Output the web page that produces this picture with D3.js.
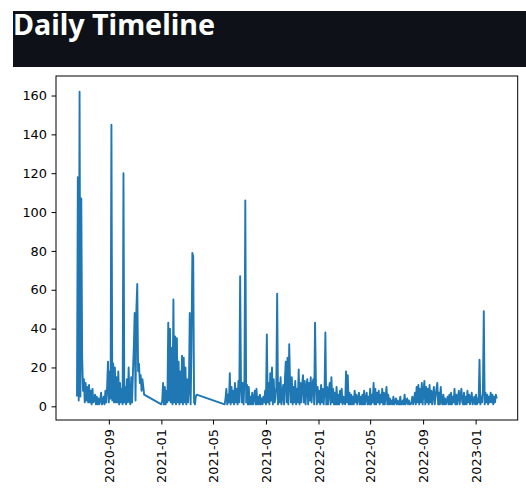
<!DOCTYPE html>
<html>
<head>
<meta charset="utf-8">
<script src="https://cdn.jsdelivr.net/npm/d3@7"></script>
<style>
  body { margin: 0; background: #fff; }
</style>
</head>
<body>
<div class="canvas"></div>
<script>
// daily message counts, every 2 days, in three runs
const segStarts = ['2020-06-19', '2021-01-01', '2021-05-28'];
const stepDays = 2;

const segA = [
    5, 118, 3, 162, 5, 107, 26,
    8, 14, 2, 12, 3, 10, 2, 11, 2, 8, 1, 9, 2,
    3, 6, 1, 5, 1, 4, 1, 3, 7, 1,
    2, 5, 1, 8, 2, 10, 23, 2, 18, 4,
    145,
    3, 22, 2, 20, 2, 15, 2, 18, 1, 12, 2, 9, 1,
    120,
    2, 10, 1, 14, 2, 20, 3, 1, 15, 2, 18,
    30, 48, 3, 50, 63, 18, 22, 12, 16, 8, 14, 10, 6
];

const segB = [
    1, 3, 12, 1, 10, 1, 8, 2, 43, 3,
    40, 2, 30, 1, 55, 2, 36, 1, 35, 2,
    23, 1, 18, 2, 26, 1, 25, 2, 20, 1,
    14, 2, 9, 48, 1, 30, 79, 77, 2, 1,
    5, 6
];

const segC = [
    1, 4, 9, 1, 6, 2, 17, 1, 10, 2,
    8, 1, 12, 2, 9, 1, 13, 2, 67, 10,
    2, 12, 1, 14, 106, 2, 11, 1, 10, 1,
    5, 1, 7, 1, 4, 8, 1, 9, 1, 5,
    1, 6, 1, 4, 1, 5, 2, 8, 1, 37,
    2, 12, 1, 17, 3, 20, 1, 14, 2, 4,
    10, 58, 1, 12, 2, 15, 1, 5, 11, 1,
    14, 23, 2, 25, 1, 32, 12, 2, 15, 1,
    10, 2, 13, 1, 9, 2, 19, 1, 12, 2,
    11, 16, 2, 13, 1, 10, 14, 1, 12, 3,
    15, 2, 11, 14, 1, 43, 12, 1, 10, 2,
    8, 1, 11, 2, 9, 1, 7, 38, 1, 10,
    1, 8, 12, 1, 15, 2, 9, 1, 7, 1,
    10, 1, 6, 1, 8, 2, 9, 1, 5, 2,
    1, 18, 2, 16, 1, 7, 1, 6, 1, 5,
    1, 8, 2, 6, 1, 4, 7, 1, 5, 1,
    6, 1, 8, 1, 4, 7, 1, 5, 1, 9,
    1, 6, 2, 12, 1, 9, 1, 7, 2, 8,
    1, 6, 2, 9, 1, 7, 1, 5, 10, 1,
    6, 1, 4, 1, 3, 1, 5, 1, 2, 4,
    1, 3, 1, 1, 5, 1, 1, 3, 1, 6,
    1, 2, 4, 1, 3, 1, 1, 2, 5, 1,
    3, 7, 1, 10, 2, 11, 1, 9, 2, 12,
    1, 8, 13, 1, 10, 2, 9, 1, 11, 2,
    8, 1, 6, 10, 1, 5, 9, 12, 1, 7,
    1, 10, 2, 1, 6, 1, 4, 1, 3, 5,
    1, 6, 1, 7, 1, 5, 2, 9, 1, 6,
    1, 5, 8, 1, 6, 9, 2, 1, 7, 1,
    5, 1, 8, 2, 6, 1, 4, 7, 1, 2,
    5, 1, 6, 1, 4, 2, 24, 1, 5, 2,
    8, 49, 1, 7, 2, 6, 1, 5, 2, 7,
    2, 6, 1, 5, 2, 6, 4
];

const yTicks = [0, 20, 40, 60, 80, 100, 120, 140, 160];
const titleText = 'Daily Timeline';

const parseDate = d3.utcParse('%Y-%m-%d');
const data = [];
[segA, segB, segC].forEach((vals, s) => {
    const start = parseDate(segStarts[s]);
    vals.forEach((v, i) => {
        data.push({ date: d3.utcDay.offset(start, i * stepDays), count: v });
    });
});

const svg = d3.select('.canvas')
    .append('svg')
    .attr('width', 526)
    .attr('height', 490);

// dark header with the title
svg.append('rect')
    .attr('x', 13)
    .attr('y', 11)
    .attr('width', 513)
    .attr('height', 56)
    .attr('fill', '#0e1117');

svg.append('text')
    .attr('x', 13)
    .attr('y', 35)
    .attr('fill', '#fff')
    .attr('font-family', 'Noto Sans, sans-serif')
    .attr('font-weight', 700)
    .attr('font-size', 28)
    .attr('textLength', 202)
    .attr('lengthAdjust', 'spacingAndGlyphs')
    .text(titleText);

// create margins and dimensions
const margins = { top: 76, right: 8.3, bottom: 70, left: 56 };
const graphWidth = 526 - margins.left - margins.right;
const graphHeight = 490 - margins.top - margins.bottom;

const graph = svg.append('g')
    .attr('transform', `translate(${margins.left}, ${margins.top})`);

// matplotlib style 5% margins
const [t0, t1] = d3.extent(data, d => d.date);
const tPad = (t1 - t0) * 0.05;
const x = d3.scaleUtc()
    .domain([new Date(+t0 - tPad), new Date(+t1 + tPad)])
    .range([0, graphWidth]);

const [c0, c1] = d3.extent(data, d => d.count);
const cPad = (c1 - c0) * 0.05;
const y = d3.scaleLinear()
    .domain([c0 - cPad, c1 + cPad])
    .range([graphHeight, 0]);

const line = d3.line()
    .x(d => x(d.date))
    .y(d => y(d.count));

graph.append('path')
    .datum(data)
    .attr('fill', 'none')
    .attr('stroke', '#1f77b4')
    .attr('stroke-width', 1.9)
    .attr('stroke-linejoin', 'round')
    .attr('d', line);

// axes
const xAxis = d3.axisBottom(x)
    .ticks(d3.utcMonth.every(4))
    .tickFormat(d3.utcFormat('%Y-%m'))
    .tickSize(4.5)
    .tickPadding(4.5);

const yAxis = d3.axisLeft(y)
    .tickValues(yTicks)
    .tickSize(4.5)
    .tickPadding(4.5);

const xAxisGroup = graph.append('g')
    .attr('transform', `translate(0, ${graphHeight})`)
    .call(xAxis);
const yAxisGroup = graph.append('g').call(yAxis);

[xAxisGroup, yAxisGroup].forEach(g => {
    g.attr('font-family', 'DejaVu Sans, sans-serif').attr('font-size', 12.9);
    g.select('.domain').remove();
    g.selectAll('.tick line').attr('stroke', '#000').attr('stroke-width', 1);
    g.selectAll('.tick text').attr('fill', '#000');
});

xAxisGroup.selectAll('.tick text')
    .attr('transform', 'rotate(-90)')
    .attr('text-anchor', 'end')
    .attr('x', -9)
    .attr('y', 0)
    .attr('dy', '0.35em');

// axes frame
graph.append('rect')
    .attr('width', graphWidth)
    .attr('height', graphHeight)
    .attr('fill', 'none')
    .attr('stroke', '#000')
    .attr('stroke-width', 1);
</script>
</body>
</html>
